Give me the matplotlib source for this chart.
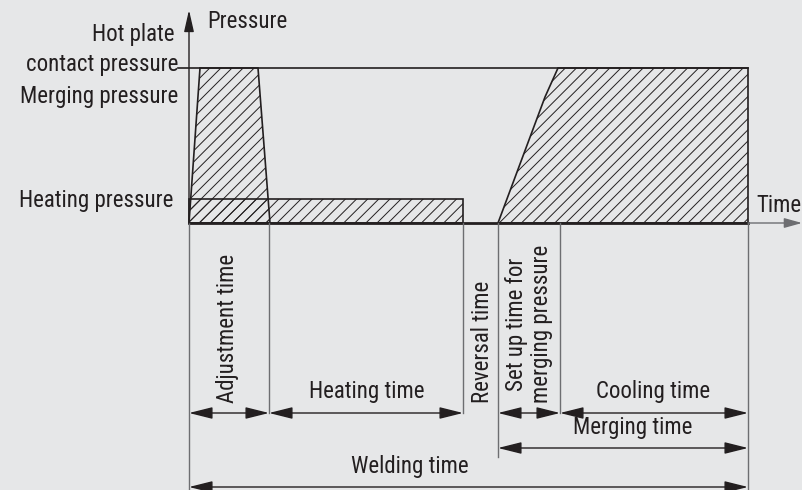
import matplotlib.pyplot as plt
from matplotlib.patches import Polygon

plt.rcParams['font.family'] = ['Roboto Condensed', 'Archivo Narrow', 'DejaVu Sans']
plt.rcParams['font.stretch'] = 'condensed'
plt.rcParams['hatch.linewidth'] = 0.7

# time marks (arbitrary units along the time axis, origin = pressure axis)
t_adjust = 80
t_heat = 274
t_setup0 = 309
t_setup1 = 371
t_end = 559

# pressure levels
p_heat = 24
p_contact = 155

# pressure curve corners
adjust_x = [0, 11, 69, 81]
adjust_y = [0, p_contact, p_contact, 0]
merge_x = [t_setup0, 356, 369, t_end, t_end]
merge_y = [0, 126, p_contact, p_contact, 0]

bg = '#e6e7e8'
ink = '#231f20'
gray = '#6d6e71'

fig = plt.figure(figsize=(8.03, 4.90), dpi=100, facecolor=bg)
ax = fig.add_axes([0, 0, 1, 1], facecolor=bg)
ax.set_xlim(-189, 614)
ax.set_ylim(-267, 223)
ax.axis('off')

# hatched areas
ax.add_patch(Polygon(list(zip([0, 0, t_heat, t_heat], [0, p_heat, p_heat, 0])),
                     closed=True, facecolor='none', edgecolor=ink, hatch='///', lw=1.2))
ax.add_patch(Polygon(list(zip(adjust_x, adjust_y)), closed=True,
                     facecolor='none', edgecolor=ink, hatch='///', lw=1.2))
ax.add_patch(Polygon(list(zip(merge_x, merge_y)), closed=True,
                     facecolor='none', edgecolor=ink, hatch='///', lw=1.2))

# axes
ax.annotate('', xy=(613, 0), xytext=(t_end, 0),
            arrowprops=dict(arrowstyle='-|>,head_length=0.9,head_width=0.25',
                            color=gray, lw=1, mutation_scale=12, shrinkA=0, shrinkB=0))
ax.annotate('', xy=(0, 213), xytext=(0, 0),
            arrowprops=dict(arrowstyle='-|>,head_length=1.1,head_width=0.25',
                            color=ink, lw=1, mutation_scale=12, shrinkA=0, shrinkB=0))
ax.plot([0, t_end], [0, 0], color=ink, lw=2)
ax.plot([-11, t_end], [p_contact, p_contact], color=ink, lw=1.2)

# extension lines
ext = [(0, -267), (t_adjust, -190), (t_heat, -190), (t_setup0, -234),
       (t_setup1, -190), (t_end, -267)]
for x, y in ext:
    ax.plot([x, x], [0, y], color=gray, lw=1)

fs = 16.5
# labels at pressure axis
ax.text(-14, 188, 'Hot plate', ha='right', va='center', fontsize=fs, color=ink)
ax.text(-11, 158, 'contact pressure', ha='right', va='center', fontsize=fs, color=ink)
ax.text(-11, 126, 'Merging pressure', ha='right', va='center', fontsize=fs, color=ink)
ax.text(-16, 23, 'Heating pressure', ha='right', va='center', fontsize=fs, color=ink)
ax.text(18, 201, 'Pressure', ha='left', va='center', fontsize=fs, color=ink)
ax.text(613, 18, 'Time', ha='right', va='center', fontsize=fs, color=ink)

# dimension arrows
def dim(x0, x1, y):
    ax.annotate('', xy=(x0, y), xytext=(x1, y),
                arrowprops=dict(arrowstyle='<|-|>,head_length=1.2,head_width=0.3',
                                color=ink, lw=1, mutation_scale=12,
                                shrinkA=0, shrinkB=0))

dim(0, t_adjust, -190)
dim(t_adjust, t_heat, -190)
dim(t_setup0, t_setup1, -190)
dim(t_setup1, t_end, -190)
dim(t_setup0, t_end, -225)
dim(0, t_end, -264)

ax.text(39, -180, 'Adjustment time', rotation=90, ha='center', va='bottom',
        fontsize=fs, color=ink)
ax.text(178, -180, 'Heating time', ha='center', va='bottom', fontsize=fs, color=ink)
ax.text(294, -180, 'Reversal time', rotation=90, ha='center', va='bottom',
        fontsize=fs, color=ink)
ax.text(340, -180, 'Set up time for\nmerging pressure', rotation=90, ha='center',
        va='bottom', fontsize=fs, color=ink, linespacing=1.1)
ax.text(464, -180, 'Cooling time', ha='center', va='bottom', fontsize=fs, color=ink)
ax.text(444, -216, 'Merging time', ha='center', va='bottom', fontsize=fs, color=ink)
ax.text(221, -255, 'Welding time', ha='center', va='bottom', fontsize=fs, color=ink)

fig.savefig('out.png', dpi=100, facecolor=bg)
